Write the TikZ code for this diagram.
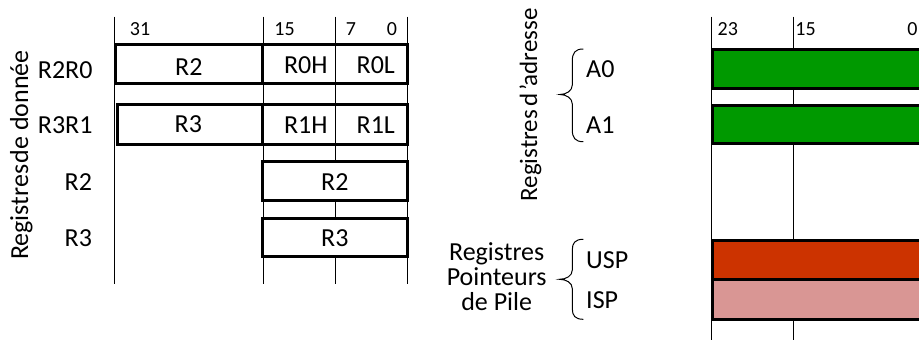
\documentclass[tikz,border=0pt]{standalone}
\usepackage{fontspec}
\setmainfont{Carlito}
\definecolor{agreen}{RGB}{0,153,0}
\definecolor{uspred}{RGB}{204,51,0}
\definecolor{isppink}{RGB}{217,150,148}
\begin{document}
\begin{tikzpicture}[x=1pt,y=-1pt,
  thinline/.style={line width=1pt},
  regbox/.style={line width=3pt, fill=white},
  lab/.style={font=\fontsize{26}{30}\selectfont, inner sep=0pt},
  bitlab/.style={font=\fontsize{20}{24}\selectfont, anchor=base, inner sep=0pt},
  bracepath/.style={line width=1pt}]
\useasboundingbox (0,0) rectangle (919,340);
\clip (0,0) rectangle (919,340);
% bit guide lines
\foreach \x in {114.3,263.3,335.7,407.3} \draw[thinline] (\x,16.7) -- (\x,284.3);
\foreach \x in {711.7,793.3} \draw[thinline] (\x,16.7) -- (\x,345);
% bit numbers
\node[bitlab] (b31) at (140,35) {31};
\node[bitlab] (b15) at (284.5,35) {15};
\node[bitlab] (b7) at (351,35) {7};
\node[bitlab] (b0) at (392,35) {0};
\node[bitlab] (c23) at (727.8,35.7) {23};
\node[bitlab] (c15) at (805.5,35.7) {15};
\node[bitlab] (c0) at (912.5,35.7) {0};
% data registers
\draw[regbox] (115.8,44.2) rectangle (262.2,83.5);
\draw[regbox] (262.2,44.2) rectangle (407.5,83.5);
\draw[thinline] (335.7,44.2) -- (335.7,83.5);
\draw[regbox] (117,104.8) rectangle (262.2,144.2);
\draw[regbox] (262.2,104.8) rectangle (407.5,144.2);
\draw[thinline] (335.7,104.8) -- (335.7,144.2);
\draw[regbox] (262.2,161.5) rectangle (407.5,200.2);
\draw[regbox] (262.2,218.2) rectangle (407.5,256.8);
\node[lab, anchor=base] (r2a) at (188.8,75) {R2};
\node[lab, anchor=base] (r0h) at (305.8,73) {R0H};
\node[lab, anchor=base] (r0l) at (375.8,73) {R0L};
\node[lab, anchor=base] (r3a) at (188.3,132.7) {R3};
\node[lab, anchor=base] (r1h) at (305.8,133.3) {R1H};
\node[lab, anchor=base] (r1l) at (375.8,133.3) {R1L};
\node[lab, anchor=base] (r2b) at (334.8,190) {R2};
\node[lab, anchor=base] (r3b) at (334.8,246.7) {R3};
\node[lab, anchor=base east] (l1) at (92.7,78.3) {R2R0};
\node[lab, anchor=base east] (l2) at (92.7,133.3) {R3R1};
\node[lab, anchor=base east] (l3) at (92.2,190) {R2};
\node[lab, anchor=base east] (l4) at (92.2,246.7) {R3};
\node[lab, anchor=base, rotate=90] (tdata) at (28,155) {Registres\hspace{1.5pt}de donnée};
% address registers
\draw[line width=3pt, fill=agreen] (712.3,49) rectangle (935,88);
\draw[line width=3pt, fill=agreen] (712.3,105) rectangle (935,143.5);
\draw[line width=3pt, fill=uspred] (712.3,240) rectangle (935,279.3);
\draw[line width=3pt, fill=isppink] (712.3,279.3) rectangle (935,319);
\node[lab, anchor=base west] (a0) at (586,77.7) {A0};
\node[lab, anchor=base west] (a1) at (586,133.3) {A1};
\node[lab, anchor=base west] (usp) at (586,268.3) {USP};
\node[lab, anchor=base west] (isp) at (586,308.3) {ISP};
\node[lab, anchor=base, rotate=90, font=\fontsize{25}{30}\selectfont] (tadr) at (537,105) {Registres\hspace{3pt}d\hspace{3pt}'adresse};
\node[lab, align=center, font=\fontsize{26}{25.3}\selectfont] (tpile) at (496.7,276.5) {Registres\\Pointeurs\\de Pile};
% braces
\draw[bracepath] (583.3,49) .. controls (575,49) and (572.3,53) .. (572.3,61)
  -- (572.3,85) .. controls (572.3,91) and (566,94.5) .. (560,94.5)
  .. controls (566,94.5) and (572.3,98) .. (572.3,104)
  -- (572.3,129.7) .. controls (572.3,137.7) and (575,141.7) .. (583.3,141.7);
\draw[bracepath] (583.3,239.3) .. controls (575,239.3) and (572.3,243) .. (572.3,250)
  -- (572.3,270) .. controls (572.3,276) and (566,279.3) .. (559.5,279.3)
  .. controls (566,279.3) and (572.3,282.6) .. (572.3,288.6)
  -- (572.3,308.6) .. controls (572.3,315.6) and (575,319.3) .. (583.3,319.3);
\end{tikzpicture}
\end{document}
